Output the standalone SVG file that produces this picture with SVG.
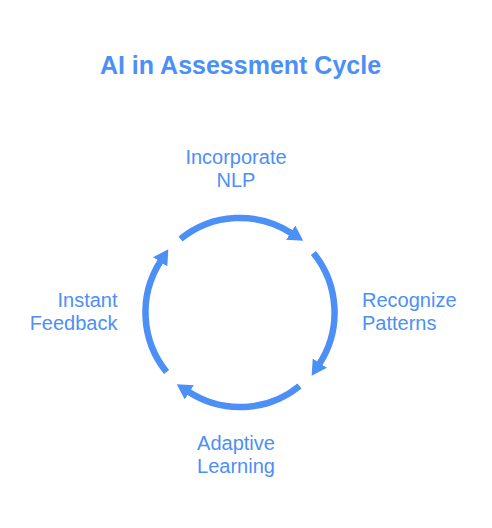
<svg xmlns="http://www.w3.org/2000/svg" width="492" height="528" viewBox="0 0 492 528">
<style>
.lbl{font-family:"Liberation Sans",Arial,sans-serif;font-size:20px;fill:#4C8FF7}
.title{font-family:"Liberation Sans",Arial,sans-serif;font-size:25px;font-weight:bold;fill:#4C8FF7}
.arc{fill:none;stroke:#4C8FF7;stroke-width:6.5}
</style>
<defs>
<marker id="ah" markerUnits="userSpaceOnUse" markerWidth="15" markerHeight="17" viewBox="0 0 15 17" refX="1" refY="8.5" orient="auto">
<polygon points="0,0 15,8.5 0,17" fill="#4C8FF7"/>
</marker>
</defs>
<text class="title" x="240.5" y="73.5" text-anchor="middle">AI in Assessment Cycle</text>
<g id="connectors">
<path class="arc" marker-end="url(#ah)" d="M 180.5 239.1 A 94.5 94.5 0 0 1 291.5 233.2"/>
<path class="arc" marker-end="url(#ah)" d="M 180.5 239.1 A 94.5 94.5 0 0 1 291.5 233.2" transform="rotate(90 240 312.5)"/>
<path class="arc" marker-end="url(#ah)" d="M 180.5 239.1 A 94.5 94.5 0 0 1 291.5 233.2" transform="rotate(180 240 312.5)"/>
<path class="arc" marker-end="url(#ah)" d="M 180.5 239.1 A 94.5 94.5 0 0 1 291.5 233.2" transform="rotate(270 240 312.5)"/>
</g>
<g id="n-nlp"><text class="lbl" text-anchor="middle"><tspan x="236" y="163.5">Incorporate</tspan><tspan x="236" y="187">NLP</tspan></text></g>
<g id="n-patterns"><text class="lbl"><tspan x="362" y="306.5">Recognize</tspan><tspan x="362" y="330">Patterns</tspan></text></g>
<g id="n-adaptive"><text class="lbl" text-anchor="middle"><tspan x="236" y="449.5">Adaptive</tspan><tspan x="236" y="473">Learning</tspan></text></g>
<g id="n-feedback"><text class="lbl" text-anchor="end"><tspan x="117.5" y="306.5">Instant</tspan><tspan x="117.5" y="330">Feedback</tspan></text></g>
</svg>
